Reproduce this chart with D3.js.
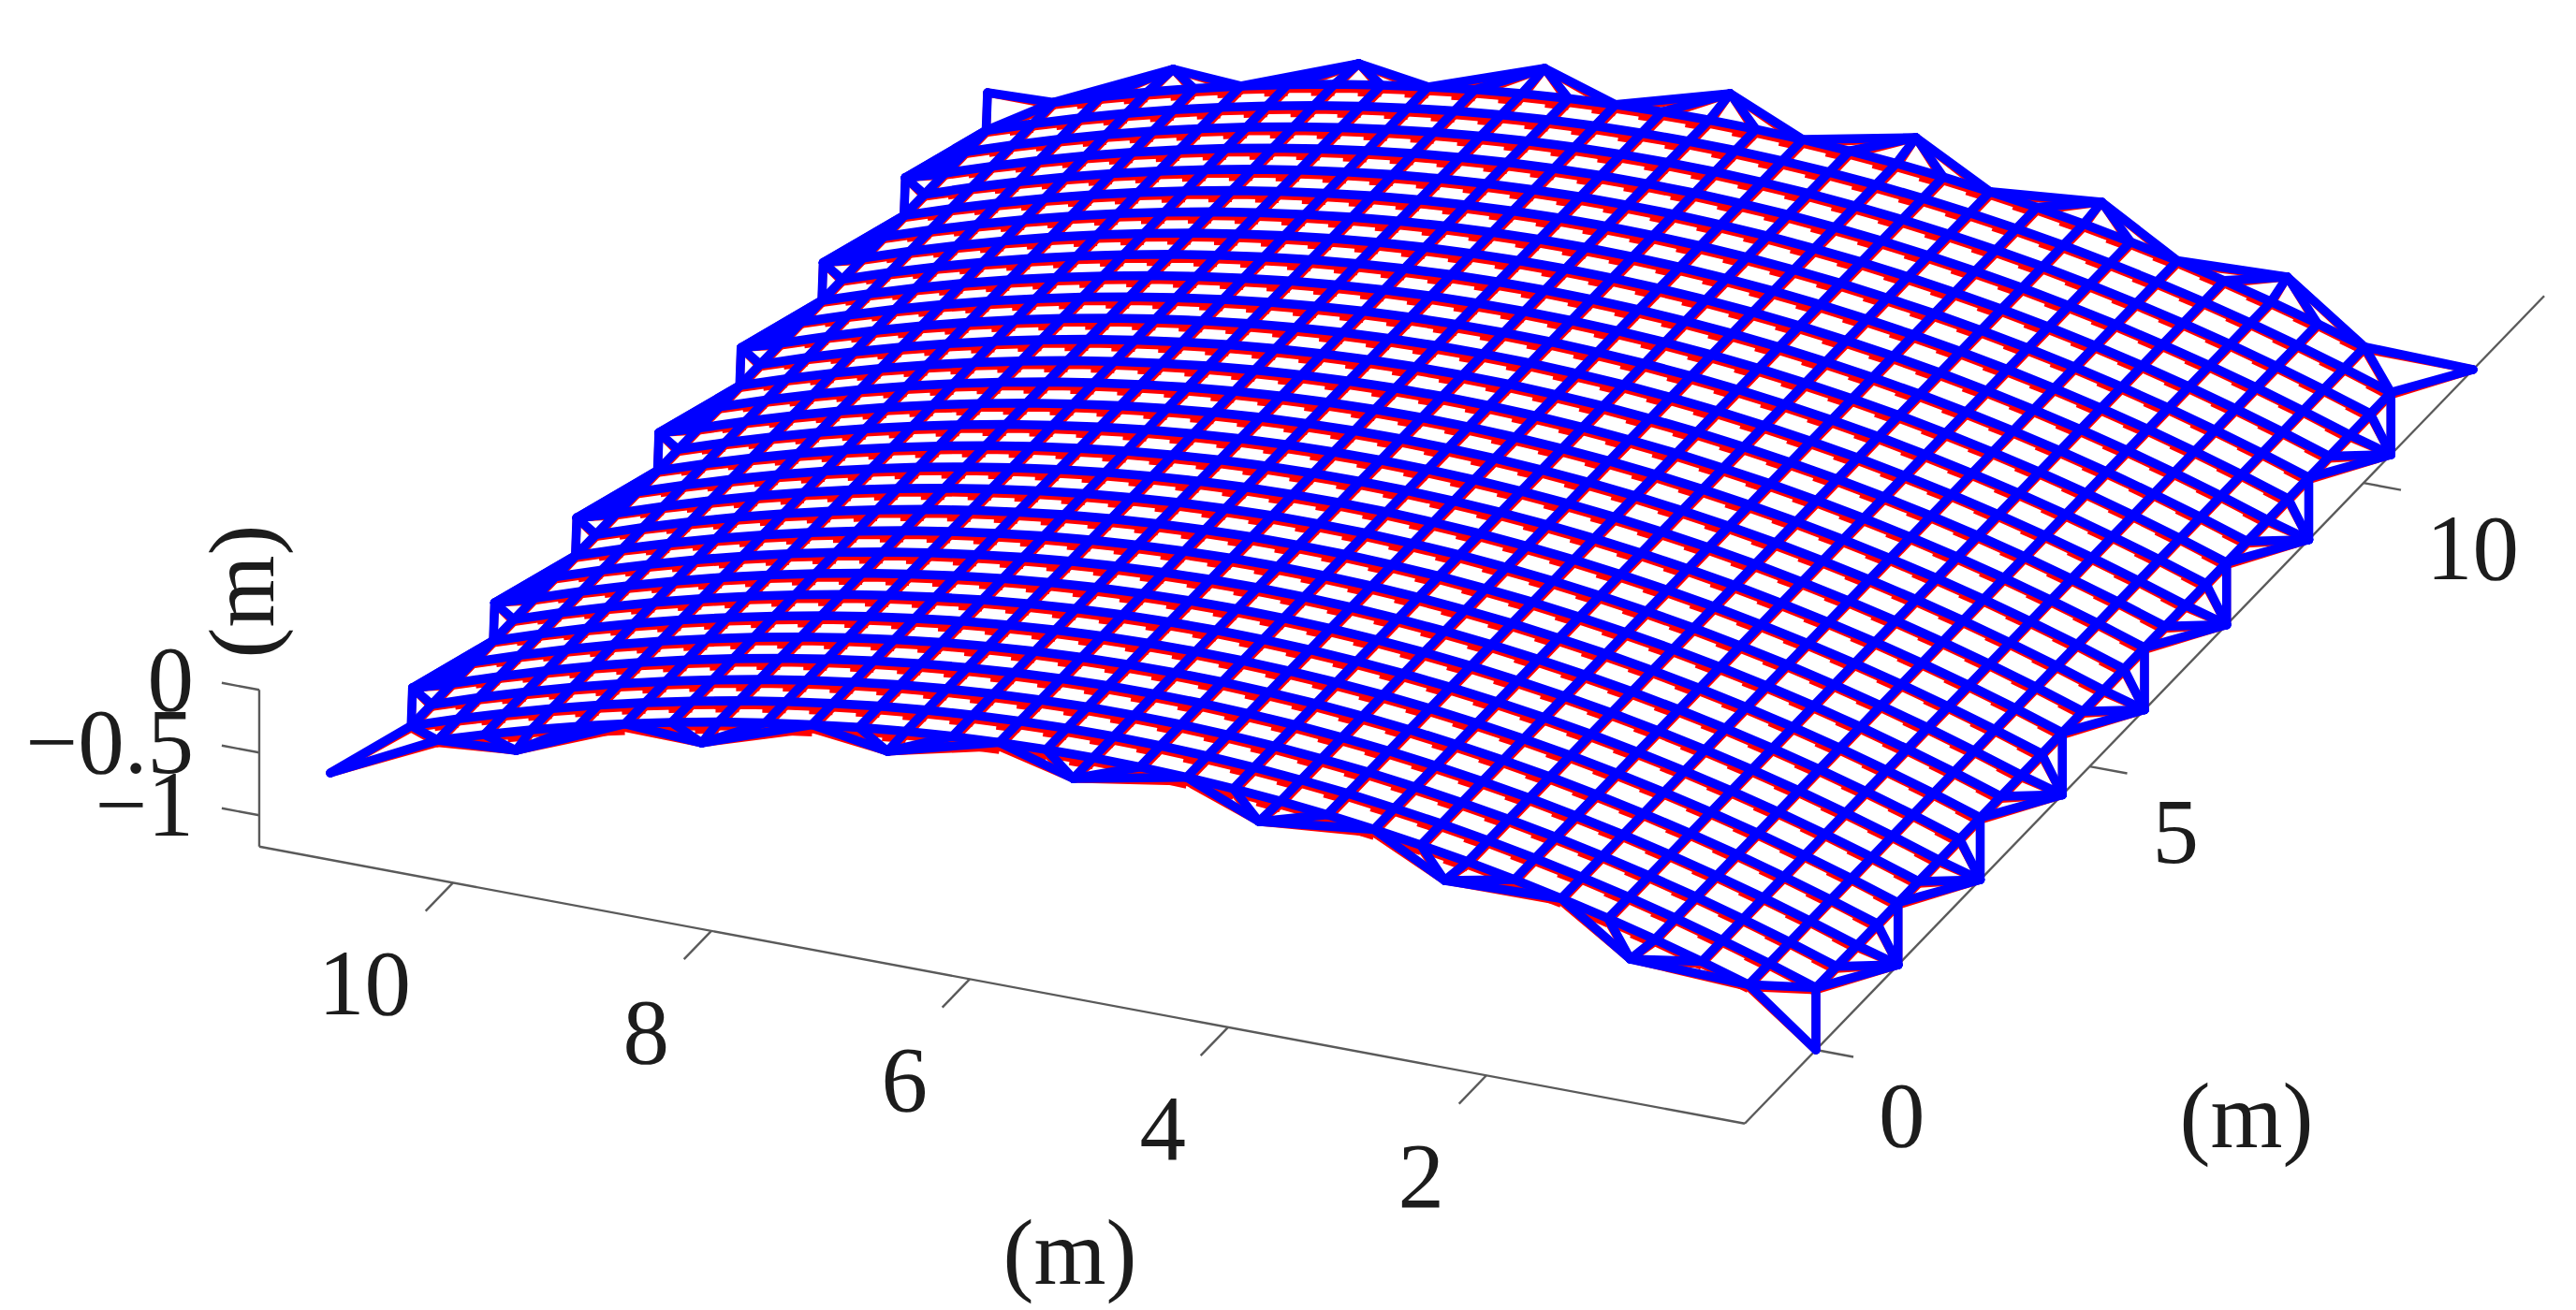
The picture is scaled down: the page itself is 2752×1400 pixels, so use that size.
<!DOCTYPE html>
<html>
<head>
<meta charset="utf-8">
<script src="https://cdn.jsdelivr.net/npm/d3@7"></script>
<style>
  html, body { margin: 0; padding: 0; background: #fff; }
  text { font-family: "Liberation Serif", "Times New Roman", serif; fill: #1c1c1c; }
</style>
</head>
<body>
<svg id="chart" width="2752" height="1400"></svg>
<script>
// tick labels
const xTicks = [2, 4, 6, 8, 10];
const yTicks = [0, 5, 10];
const zTicks = [0, -0.5, -1];

// box size (m) and anchor plane height
const spanX = 11.5, spanY = 12, floorZ = -1.25;
const axisYStart = -1.3, axisYEnd = 13.3;
const cellX = 0.3625, cellY = 0.375, anchorY = 1.5, anchorX = 1.4375;

// height of each net column along x (m), same for all rows
const netZ = [-0.754, -0.63, -0.515, -0.408, -0.31, -0.221, -0.14, -0.067, -0.004, 0.051, 0.099,
  0.137, 0.167, 0.188, 0.201, 0.205, 0.201, 0.188, 0.167, 0.137, 0.099, 0.051, -0.004, -0.067,
  -0.14, -0.221, -0.31, -0.408, -0.515, -0.63, -0.754];
// gap between the blue and the red net along x (m)
const redDrop = [0.03, 0.03, 0.032, 0.034, 0.036, 0.036, 0.04, 0.042, 0.044, 0.046, 0.048,
  0.05, 0.05, 0.052, 0.052, 0.052, 0.054, 0.054, 0.054, 0.054, 0.054, 0.054, 0.054, 0.054,
  0.052, 0.05, 0.048, 0.044, 0.04, 0.034, 0.03];
// heights of the anchor points on the near and far long edge (m), 1 to 7 along x
const nearAnchorZ = [-0.802, -0.451, -0.257, -0.19, -0.25, -0.459, -0.795];
const farAnchorZ = [-0.787, -0.466, -0.228, -0.153, -0.228, -0.466, -0.787];

const last = netZ.length - 1;

// oblique projection, one scale per 3d axis, each gives a screen offset
const origin = [1940, 1122];
const xOff = d3.scaleLinear([0, spanX], [[0, 0], [-1587, -296]]);
const yOff = d3.scaleLinear([0, spanY], [[0, 0], [702, -727]]);
const zOff = d3.scaleLinear([floorZ, 0], [[0, 0], [0, -167.5]]);
function project(x, y, z) {
  const a = xOff(x), b = yOff(y), c = zOff(z);
  return [origin[0] + a[0] + b[0] + c[0], origin[1] + a[1] + b[1] + c[1]];
}

// net node, row 1 sits on y = 0
function node(i, j, drop) {
  return project(i * cellX, (j - 1) * cellY, netZ[i] - drop * redDrop[i]);
}
const sideA = k => project(0, anchorY * k, floorZ);
const sideB = k => project(spanX, anchorY * k, floorZ);
const nearA = k => project(anchorX * k, 0, nearAnchorZ[k - 1]);
const farA = k => project(anchorX * k, spanY, farAnchorZ[k - 1]);

// strands as lists of [i,j]; the four corner nodes are missing from the net
const isEnd = n => n === 0 || n === last;
function range(other) { return isEnd(other) ? [1, last - 1] : [0, last]; }
const strands = [];
d3.range(last + 1).forEach(j => {
  const [a, b] = range(j);
  strands.push(d3.range(a, b + 1).map(i => [i, j]));
});
d3.range(last + 1).forEach(i => {
  const [a, b] = range(i);
  strands.push(d3.range(a, b + 1).map(j => [i, j]));
});
strands.push([[0, 1], [1, 0]]);
strands.push([[0, last - 1], [1, last]]);
strands.push([[last, 1], [last - 1, 0]]);
strands.push([[last, last - 1], [last - 1, last]]);

// anchor fans: anchor point to 5 net nodes, only 2 at the corner anchors
const fans = [];
d3.range(0, 9).forEach(k => {
  let to;
  if (k === 0) to = [[0, 1], [1, 0]];
  else if (k === 8) to = [[0, last - 1], [1, last]];
  else to = d3.range(5).map(n => [0, 4 * k - 3 + n]);
  to.forEach(n => fans.push([sideA(k), n]));
  if (k === 0) to = [[last, 1], [last - 1, 0]];
  else if (k === 8) to = [[last, last - 1], [last - 1, last]];
  else to = d3.range(5).map(n => [last, 4 * k - 3 + n]);
  to.forEach(n => fans.push([sideB(k), n]));
});
d3.range(1, 8).forEach(k => {
  d3.range(5).forEach(n => {
    fans.push([nearA(k), [4 * k - 3 + n, 0]]);
    fans.push([farA(k), [4 * k - 3 + n, last]]);
  });
});

const svg = d3.select("#chart");
const line = d3.line();

// axes
const axes = svg.append("g").attr("fill", "none").attr("stroke", "#5a5a5a").attr("stroke-width", 2.4);
function seg(p, q) { axes.append("path").attr("d", line([p, q])); }
seg(project(spanX, axisYStart, 0), project(spanX, axisYStart, floorZ));
seg(project(spanX, axisYStart, floorZ), project(0, axisYStart, floorZ));
seg(project(0, axisYStart, floorZ), project(0, axisYEnd, floorZ));
xTicks.forEach(v => seg(project(v, axisYStart, floorZ), project(v, axisYStart - 0.5, floorZ)));
yTicks.forEach(v => seg(project(0, v, floorZ), project(-0.29, v, floorZ)));
zTicks.forEach(v => seg(project(spanX, axisYStart, v), project(spanX + 0.29, axisYStart, v)));

// tick labels and axis names
const labels = svg.append("g").attr("font-size", 99);
xTicks.forEach(v => {
  const p = project(v, axisYStart, floorZ);
  labels.append("text").attr("x", p[0] - 45).attr("y", p[1] + 141).attr("text-anchor", "end").text(v);
});
yTicks.forEach(v => {
  const p = project(0, v, floorZ);
  labels.append("text").attr("x", p[0] + 67).attr("y", p[1] + 103).text(v);
});
zTicks.forEach(v => {
  const p = project(spanX, axisYStart, v);
  labels.append("text").attr("x", p[0] - 70).attr("y", p[1] + 22).attr("text-anchor", "end")
    .text(String(v).replace("-", "\u2212"));
});
labels.append("text").attr("x", 1143).attr("y", 1372).attr("text-anchor", "middle").text("(m)");
labels.append("text").attr("x", 2400).attr("y", 1226).attr("text-anchor", "middle").text("(m)");
labels.append("text").attr("transform", "translate(292,632) rotate(-90)").attr("text-anchor", "middle").text("(m)");

// the net itself: red first, blue on top
const net = svg.append("g").attr("fill", "none").style("filter", "blur(0.7px)");

function drawNet(g, color, width, drop) {
  g.attr("stroke", color).attr("stroke-width", width)
    .attr("stroke-linejoin", "round").attr("stroke-linecap", "round");
  strands.forEach(s => g.append("path").attr("d", line(s.map(n => node(n[0], n[1], drop)))));
  fans.forEach(f => g.append("path").attr("d", line([f[0], node(f[1][0], f[1][1], drop)])));
}

const red = net.append("g");
drawNet(red, "#ff0000", 9, 0.6);

// right half of each red x strand sits lower, that is the step seen in the holes
const redSteps = net.append("g").attr("stroke", "#ff0000").attr("stroke-width", 9);
d3.range(last + 1).forEach(j => {
  const [a, b] = range(j);
  d3.range(a, b).forEach(i => {
    const p = node(i, j, 1.1), q = node(i + 1, j, 1.1);
    redSteps.append("path").attr("d", line([p, [(p[0] + q[0]) / 2, (p[1] + q[1]) / 2]]));
  });
});

const blue = net.append("g");
drawNet(blue, "#0000ff", 9.6, 0);

// solid band along the far x side between anchors
d3.range(1, 8).forEach(k => {
  const pts = [sideB(k), node(last, 4 * k + 1, 0), node(last, 4 * k - 1, 0)];
  blue.append("path").attr("d", line(pts) + "Z").attr("fill", "#0000ff");
});
</script>
</body>
</html>
